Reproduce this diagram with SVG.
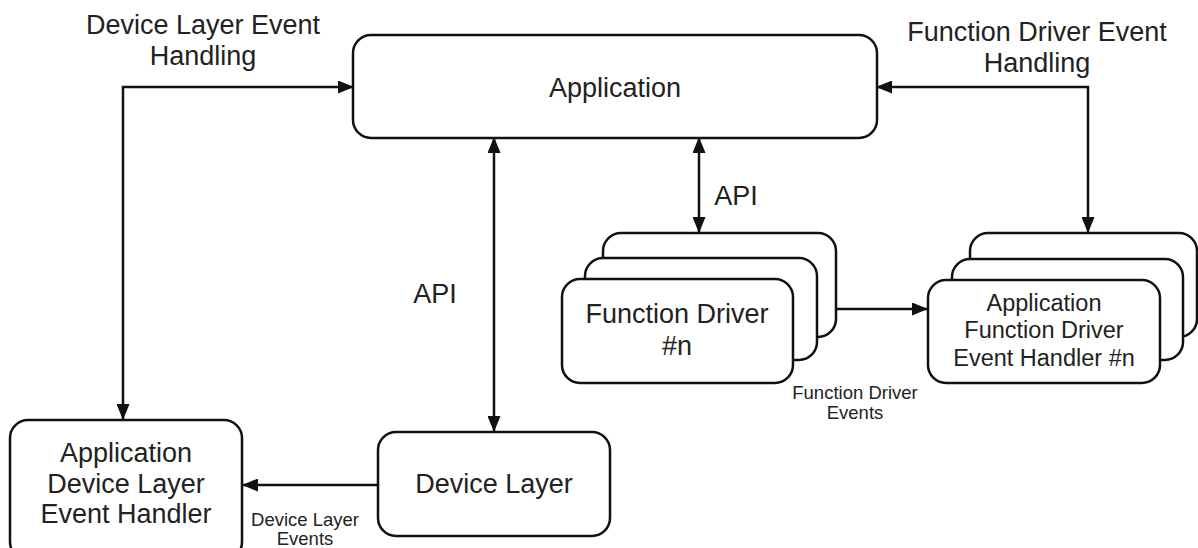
<svg xmlns="http://www.w3.org/2000/svg" width="1198" height="548" viewBox="0 0 1198 548">
<style>
.box{fill:#fff;stroke:#111;stroke-width:2.5}
.con{fill:none;stroke:#111;stroke-width:2.5}
text{font-family:"Liberation Sans",Arial,sans-serif;fill:#222;text-anchor:middle}
.big{font-size:27px}
.mid{font-size:23.5px}
.sm{font-size:18.5px}
</style>
<defs>
<marker id="arr" viewBox="0 0 16 13" markerWidth="16" markerHeight="13" refX="15" refY="6.5" orient="auto-start-reverse" markerUnits="userSpaceOnUse">
<path d="M0,0 L16,6.5 L0,13 z" fill="#111"/>
</marker>
</defs>
<rect width="1198" height="548" fill="#fff"/>
<g id="connectors">
<path class="con" d="M123,419 L123,87 L353,87" marker-start="url(#arr)" marker-end="url(#arr)"/>
<path class="con" d="M877,87 L1088,87 L1088,232" marker-start="url(#arr)" marker-end="url(#arr)"/>
<path class="con" d="M494,138 L494,431" marker-start="url(#arr)" marker-end="url(#arr)"/>
<path class="con" d="M699,138 L699,232" marker-start="url(#arr)" marker-end="url(#arr)"/>
<path class="con" d="M837,309 L927,309" marker-end="url(#arr)"/>
<path class="con" d="M378,485 L243,485" marker-end="url(#arr)"/>
<text class="big" x="203" y="34">Device Layer Event</text>
<text class="big" x="203" y="65">Handling</text>
<text class="big" x="1037" y="41">Function Driver Event</text>
<text class="big" x="1037" y="72">Handling</text>
<text class="big" x="435" y="303">API</text>
<text class="big" x="736" y="205">API</text>
<text class="sm" x="855" y="399">Function Driver</text>
<text class="sm" x="855" y="419">Events</text>
<text class="sm" x="305" y="526">Device Layer</text>
<text class="sm" x="305" y="545">Events</text>
</g>
<g id="application">
<rect class="box" x="353" y="35" width="524" height="103" rx="18"/>
<text class="big" x="615" y="97">Application</text>
</g>
<g id="function-driver">
<rect class="box" x="603" y="233" width="233" height="104" rx="18"/>
<rect class="box" x="585" y="258" width="232" height="102" rx="18"/>
<rect class="box" x="562" y="279" width="231" height="104" rx="18"/>
<text class="big" x="677" y="323">Function Driver</text>
<text class="big" x="677" y="355">#n</text>
</g>
<g id="app-fd-handler">
<rect class="box" x="970" y="233" width="227" height="104" rx="18"/>
<rect class="box" x="952" y="259" width="231" height="101" rx="18"/>
<rect class="box" x="928" y="280" width="232" height="103" rx="18"/>
<text class="mid" x="1044" y="311">Application</text>
<text class="mid" x="1044" y="338">Function Driver</text>
<text class="mid" x="1044" y="366">Event Handler #n</text>
</g>
<g id="device-layer">
<rect class="box" x="378" y="432" width="232" height="104" rx="18"/>
<text class="big" x="494" y="493">Device Layer</text>
</g>
<g id="app-dl-handler">
<rect class="box" x="10" y="420" width="232" height="140" rx="18"/>
<text class="big" x="126" y="462">Application</text>
<text class="big" x="126" y="493">Device Layer</text>
<text class="big" x="126" y="523">Event Handler</text>
</g>
</svg>
